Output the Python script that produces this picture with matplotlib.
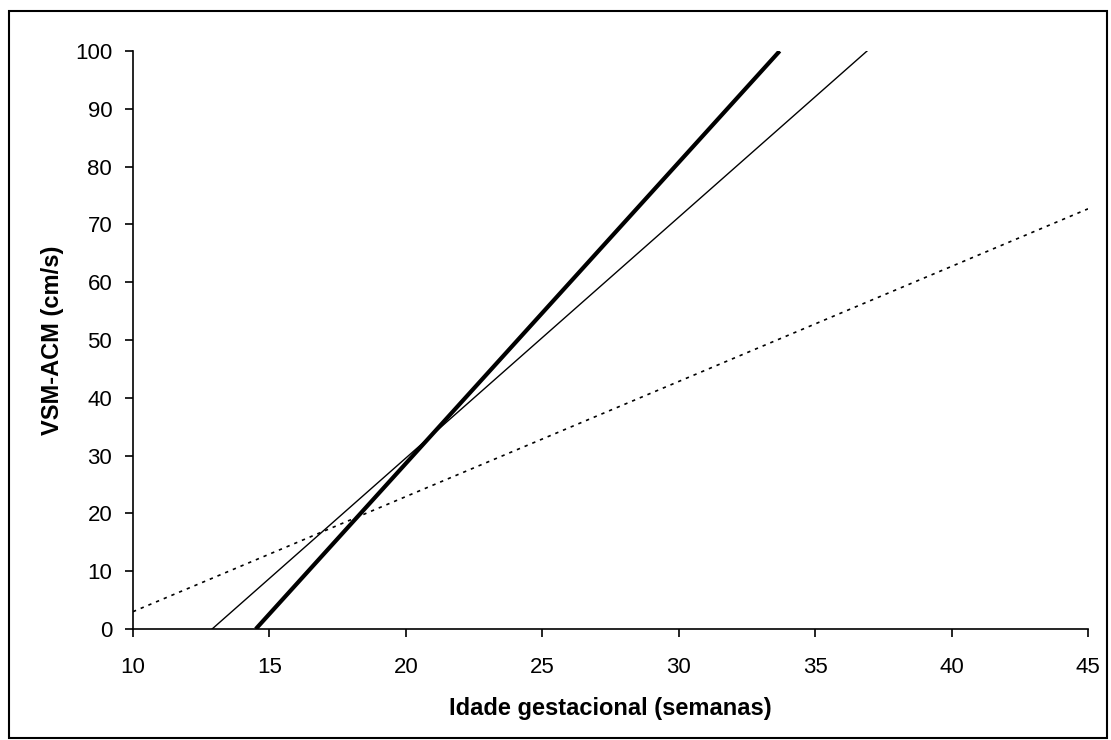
import matplotlib
matplotlib.use('Agg')
import matplotlib.pyplot as plt
from matplotlib.patches import Rectangle

plt.rcParams['font.family'] = ['Liberation Sans', 'DejaVu Sans']

# regression lines (endpoints)
thick_x = [14.5, 33.7]
thick_y = [0, 100]
thin_x = [12.9, 36.9]
thin_y = [0, 100]
dot_x = [10, 45]
dot_y = [3.0, 72.7]

xticks = [10, 15, 20, 25, 30, 35, 40, 45]
yticks = [0, 10, 20, 30, 40, 50, 60, 70, 80, 90, 100]

fig = plt.figure(figsize=(11.11, 7.4), dpi=100)
ax = fig.add_axes([0.1197, 0.15, 0.8596, 0.781])

ax.plot(thick_x, thick_y, color='black', lw=3.0, solid_capstyle='butt')
ax.plot(thin_x, thin_y, color='black', lw=1.0)
ax.plot(dot_x, dot_y, color='black', lw=1.2, linestyle=(0, (2, 3)))

ax.set_xlim(10, 45)
ax.set_ylim(0, 100)
ax.set_xticks(xticks)
ax.set_yticks(yticks)
ax.tick_params(direction='out', length=6, width=1.2, labelsize=16)
ax.tick_params(axis='x', pad=14)
ax.tick_params(axis='y', pad=9)
for s in ['top', 'right']:
    ax.spines[s].set_visible(False)
for s in ['left', 'bottom']:
    ax.spines[s].set_linewidth(1.2)

ax.set_xlabel('Idade gestacional (semanas)', fontsize=17, fontweight='bold', labelpad=14)
ax.set_ylabel('VSM-ACM (cm/s)', fontsize=17, fontweight='bold', labelpad=8)

fig.patches.append(Rectangle((9 / 1111, 2 / 740), 1098 / 1111, 727 / 740,
                             transform=fig.transFigure, fill=False,
                             edgecolor='black', lw=1.5))

fig.savefig('out.png', dpi=100)
